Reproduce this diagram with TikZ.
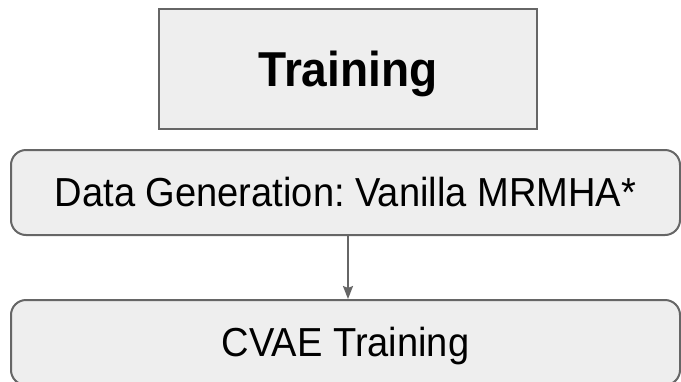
\documentclass[tikz,border=0pt]{standalone}
\usepackage{fontspec}
\setmainfont{Liberation Sans}
% slightly condensed face for the box labels
\newfontfamily\labelfont[FakeStretch=0.94]{Liberation Sans}
\frenchspacing
\usetikzlibrary{arrows.meta}
\definecolor{boxfill}{HTML}{EEEEEE}
\definecolor{boxline}{HTML}{666666}
\begin{document}
\begin{tikzpicture}[x=1pt,y=1pt,
  box/.style={draw=boxline, fill=boxfill, line width=2pt, inner sep=0pt, align=center},
  stage/.style={box, rounded corners=15pt, minimum width=669pt, minimum height=85pt,
    font=\labelfont\fontsize{40.5}{44}\selectfont, text height=28.8pt, text depth=0pt},
  flow/.style={draw=boxline, line width=2pt,
    -{Stealth[length=13pt,width=10pt,inset=2pt]}}]
  \useasboundingbox (0,0) rectangle (681,-381);
  \clip (0,0) rectangle (681,-381);
  \node[box, minimum width=378pt, minimum height=120pt,
    font=\labelfont\bfseries\fontsize{49}{52}\selectfont, text height=35pt, text depth=0pt]
    (train) at (348,-69) {Training};
  \node[stage] (data) at (345.5,-192.5) {Data Generation: Vanilla MRMHA*};
  \node[stage] (cvae) at (345.5,-342.5) {CVAE Training};
  \draw[flow] (data.south -| train.south) -- (cvae.north -| train.south);
\end{tikzpicture}
\end{document}
